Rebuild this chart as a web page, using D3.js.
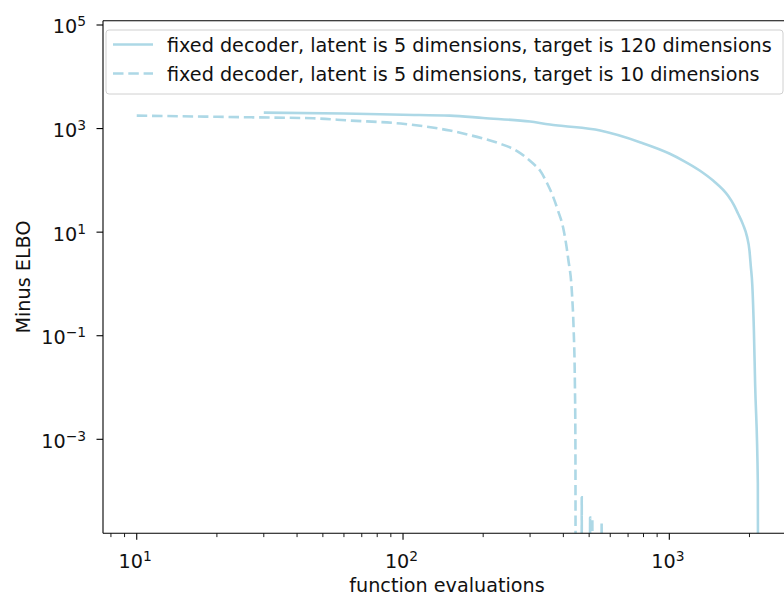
<!DOCTYPE html>
<html>
<head>
<meta charset="utf-8">
<script src="https://cdn.jsdelivr.net/npm/d3@7"></script>
<style>
  body { margin: 0; background: #fff; }
  svg { display: block; font-family: "DejaVu Sans", sans-serif; }
</style>
</head>
<body>
<div id="chart"></div>
<script>
// function evaluations vs minus ELBO
const solidEvals = [30, 60, 100, 150, 200, 300, 356, 400, 550, 780, 1000, 1126, 1300, 1460, 1660, 1753, 1811, 1892, 1958, 2000,
                    2022, 2050, 2078, 2100, 2150, 2167];
const solidElbo  = [2030, 1950, 1850, 1780, 1600, 1365, 1195, 1120, 915, 540, 330, 241, 155, 99, 50.9, 32.6, 22.9, 14, 8.2, 4.4,
                    2.26, 0.93, 0.126, 0.012, 1.4e-4, 0];

const dashEvals = [10, 27, 46, 63, 98, 150, 200, 231, 270, 308, 327, 348, 366, 382, 399, 417, 431, 437, 442, 444,
                   446, 468, 469, 470, 503, 504, 505, 513, 514, 515, 556, 557, 558];
const dashElbo  = [1780, 1650, 1580, 1430, 1250, 915, 640, 513, 360, 211, 155, 87, 48.6, 26, 12.4, 3.1, 0.65, 0.144, 0.012, 8.3e-4,
                   0, 0, 7.6e-5, 0, 0, 3.1e-5, 0, 0, 3.0e-5, 0, 0, 2.4e-5, 0];

const seriesLabels = [
    "fixed decoder, latent is 5 dimensions, target is 120 dimensions",
    "fixed decoder, latent is 5 dimensions, target is 10 dimensions"
];
const xTickValues = [10, 100, 1000];
const yTickValues = [1e5, 1e3, 1e1, 1e-1, 1e-3];

const margin = { top: 20.7, left: 103 };
const width = 688;      // right spine sits just past the picture edge
const height = 512.6;
const color = "#add8e6";
const fontSize = "19.2px";
const dash = "10.5,4.8";

const svg = d3.select("#chart").append("svg")
    .attr("width", 784)
    .attr("height", 596);

const g = svg.append("g")
    .attr("transform", `translate(${margin.left},${margin.top})`);

const xScale = d3.scaleLog()
    .domain([7.47, 2864])
    .range([0, width]);

const yScale = d3.scaleLog()
    .domain([Math.pow(10, -4.815), Math.pow(10, 5.083)])
    .range([height, 0]);

g.append("clipPath").attr("id", "plot-clip")
    .append("rect")
    .attr("width", width)
    .attr("height", height);

// non-positive values are clipped to a tiny number, like matplotlib does
const line = d3.line()
    .x(d => xScale(d[0]))
    .y(d => yScale(Math.max(d[1], 1e-12)))
    .curve(d3.curveMonotoneX);

const solidData = d3.zip(solidEvals, solidElbo);
const dashData = d3.zip(dashEvals, dashElbo);

const lines = g.append("g").attr("clip-path", "url(#plot-clip)");

lines.append("path")
    .datum(solidData)
    .attr("d", line)
    .attr("fill", "none")
    .attr("stroke", color)
    .attr("stroke-width", 2.6)
    .attr("stroke-linejoin", "round");

lines.append("path")
    .datum(dashData)
    .attr("d", line)
    .attr("fill", "none")
    .attr("stroke", color)
    .attr("stroke-width", 2.6)
    .attr("stroke-dasharray", dash);

// superscript tick label, e.g. 10^3 / 10^-1
function powLabel(sel, v) {
    const e = Math.round(Math.log10(v));
    sel.text("");
    sel.append("tspan").text("10");
    sel.append("tspan")
        .attr("dy", "-0.5em")
        .style("font-size", "0.72em")
        .text(e < 0 ? "\u2212" + Math.abs(e) : e);
}

// x axis: major + minor ticks
const xMinor = [];
[1, 10, 100, 1000].forEach(base => {
    for (let k = 2; k <= 9; k++) {
        const v = base * k;
        if (v >= 7.47 && v <= 2864) xMinor.push(v);
    }
});

const xAxis = g.append("g").attr("transform", `translate(0,${height})`);
xAxis.selectAll(".minor")
    .data(xMinor)
    .enter()
    .append("line")
    .attr("x1", d => xScale(d)).attr("x2", d => xScale(d))
    .attr("y1", 0).attr("y2", 3.8)
    .attr("stroke", "#000").attr("stroke-width", 0.9);
xAxis.selectAll(".major")
    .data(xTickValues)
    .enter()
    .append("line")
    .attr("x1", d => xScale(d)).attr("x2", d => xScale(d))
    .attr("y1", 0).attr("y2", 6.5)
    .attr("stroke", "#000").attr("stroke-width", 1.1);
xAxis.selectAll(".xlabel")
    .data(xTickValues)
    .enter()
    .append("text")
    .attr("x", d => xScale(d) - 1.5)
    .attr("y", 34.5)
    .attr("text-anchor", "middle")
    .style("font-size", fontSize)
    .attr("fill", "#111")
    .each(function(d) { powLabel(d3.select(this), d); });

// y axis
const yAxis = g.append("g");
yAxis.selectAll(".major")
    .data(yTickValues)
    .enter()
    .append("line")
    .attr("x1", -6.5).attr("x2", 0)
    .attr("y1", d => yScale(d)).attr("y2", d => yScale(d))
    .attr("stroke", "#000").attr("stroke-width", 1.1);
yAxis.selectAll(".ylabel")
    .data(yTickValues)
    .enter()
    .append("text")
    .attr("x", -17)
    .attr("y", d => yScale(d) + 8.4)
    .attr("text-anchor", "end")
    .style("font-size", fontSize)
    .attr("fill", "#111")
    .each(function(d) { powLabel(d3.select(this), d); });

// spines
g.append("line").attr("x1", 0).attr("x2", 0).attr("y1", 0).attr("y2", height)
    .attr("stroke", "#000").attr("stroke-width", 1.1);
g.append("line").attr("x1", 0).attr("x2", width).attr("y1", height).attr("y2", height)
    .attr("stroke", "#000").attr("stroke-width", 1.1);
g.append("line").attr("x1", 0).attr("x2", width).attr("y1", 0).attr("y2", 0)
    .attr("stroke", "#000").attr("stroke-width", 1.1);
g.append("line").attr("x1", width).attr("x2", width).attr("y1", 0).attr("y2", height)
    .attr("stroke", "#000").attr("stroke-width", 1.1);

// axis titles
svg.append("text")
    .attr("x", margin.left + width / 2)
    .attr("y", 592)
    .attr("text-anchor", "middle")
    .style("font-size", fontSize)
    .attr("fill", "#111")
    .text("function evaluations");

svg.append("text")
    .attr("transform", `translate(29.5,${margin.top + height / 2}) rotate(-90)`)
    .attr("text-anchor", "middle")
    .style("font-size", fontSize)
    .attr("fill", "#111")
    .text("Minus ELBO");

// legend
const legend = svg.append("g").attr("transform", "translate(106,30)");
legend.append("rect")
    .attr("width", 677)
    .attr("height", 64)
    .attr("rx", 3)
    .attr("fill", "#fff")
    .attr("fill-opacity", 0.8)
    .attr("stroke", "#d0d0d0")
    .attr("stroke-width", 1);

const rows = legend.selectAll(".row")
    .data(seriesLabels)
    .enter()
    .append("g")
    .attr("transform", (d, i) => `translate(0,${14.5 + i * 29})`);

rows.append("line")
    .attr("x1", 7).attr("x2", 47)
    .attr("stroke", color)
    .attr("stroke-width", 2.6)
    .attr("stroke-dasharray", (d, i) => i === 1 ? dash : null);

rows.append("text")
    .attr("x", 61)
    .attr("y", 7)
    .style("font-size", fontSize)
    .attr("fill", "#111")
    .text(d => d);
</script>
</body>
</html>
